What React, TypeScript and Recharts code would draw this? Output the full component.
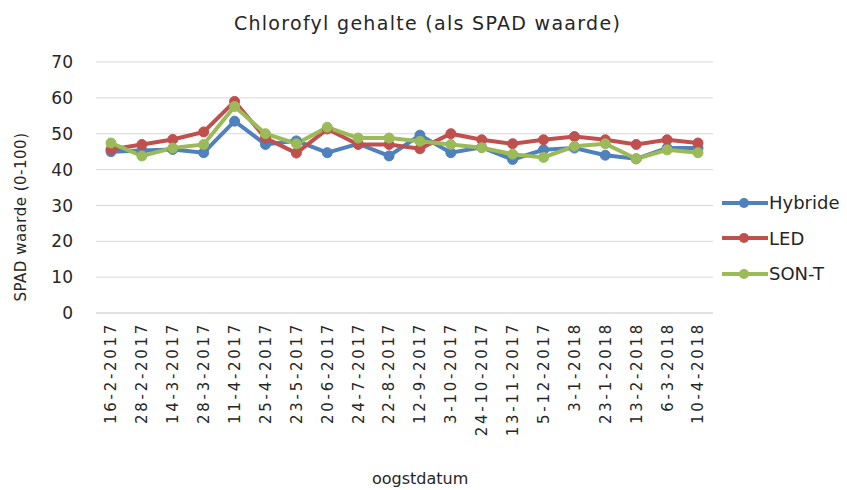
import { CartesianGrid, Line, LineChart, XAxis, YAxis } from 'recharts';

const datums = [
  '16-2-2017', '28-2-2017', '14-3-2017', '28-3-2017', '11-4-2017',
  '25-4-2017', '23-5-2017', '20-6-2017', '24-7-2017', '22-8-2017',
  '12-9-2017', '3-10-2017', '24-10-2017', '13-11-2017', '5-12-2017',
  '3-1-2018', '23-1-2018', '13-2-2018', '6-3-2018', '10-4-2018',
];

const hybride = [45, 45.3, 45.6, 44.7, 53.5, 47, 48, 44.7, 47.2, 43.8, 49.6, 44.7, 46.2, 42.8, 45.5, 46, 44, 43, 46, 46];
const led = [45.6, 47, 48.4, 50.5, 59, 48.8, 44.6, 51.3, 47, 47, 45.8, 50, 48.3, 47.2, 48.3, 49.2, 48.3, 47, 48.3, 47.4];
const sont = [47.4, 43.8, 46, 47, 57.6, 50, 47.2, 51.8, 48.8, 48.8, 47.9, 47, 46.1, 44.3, 43.4, 46.5, 47.2, 43, 45.5, 44.7];

const yTicks = [0, 10, 20, 30, 40, 50, 60, 70];

const series = [
  { key: 'hybride', naam: 'Hybride', kleur: '#4F81BD' },
  { key: 'led', naam: 'LED', kleur: '#C0504D' },
  { key: 'sont', naam: 'SON-T', kleur: '#9BBB59' },
];

const data = datums.map((d, i) => ({
  datum: d,
  hybride: hybride[i],
  led: led[i],
  sont: sont[i],
}));

const font = '"DejaVu Sans", Verdana, sans-serif';
const tekst = '#262626';

const XTick = (props: any) => {
  const { x, payload } = props;
  return (
    <g transform={`translate(${x},322)`}>
      <text
        transform="rotate(-90)"
        textAnchor="end"
        dy="0.36em"
        fill={tekst}
        fontSize={15}
        letterSpacing={2.7}
        fontFamily={font}>
        {payload.value}
      </text>
    </g>
  );
};

const YTick = (props: any) => {
  const { y, payload } = props;
  return (
    <text x={73} y={y} dy="0.36em" textAnchor="end" fill={tekst} fontSize={17} fontFamily={font}>
      {payload.value}
    </text>
  );
};

export default function App() {
  return (
    <div style={{ position: 'absolute', left: 0, top: 0, width: 847, height: 490, background: '#fff', fontFamily: font }}>
      <LineChart
        width={847}
        height={490}
        data={data}
        margin={{ top: 62, right: 134, left: 0, bottom: 57 }}>
        <CartesianGrid vertical={false} stroke="#d9d9d9" />
        <XAxis
          dataKey="datum"
          interval={0}
          height={120}
          padding={{ left: 15, right: 15 }}
          tickLine={false}
          stroke="#d9d9d9"
          tick={<XTick />}
        />
        <YAxis
          width={96}
          domain={[0, 70]}
          ticks={yTicks}
          axisLine={false}
          tickLine={false}
          tick={<YTick />}
        />
        {series.map((s) => (
          <Line
            key={s.key}
            dataKey={s.key}
            name={s.naam}
            stroke={s.kleur}
            strokeWidth={4}
            dot={{ r: 5, fill: s.kleur, stroke: s.kleur, strokeWidth: 1 }}
            isAnimationActive={false}
          />
        ))}
      </LineChart>

      <div
        style={{
          position: 'absolute',
          top: 12,
          left: 0,
          width: 855,
          textAlign: 'center',
          fontSize: 19,
          letterSpacing: 1.3,
          color: tekst,
        }}>
        Chlorofyl gehalte (als SPAD waarde)
      </div>
      <div
        style={{
          position: 'absolute',
          left: 21,
          top: 217,
          transform: 'translate(-50%, -50%) rotate(-90deg)',
          whiteSpace: 'nowrap',
          fontSize: 15,
          letterSpacing: 0.5,
          color: tekst,
        }}>
        SPAD waarde (0-100)
      </div>
      <div style={{ position: 'absolute', left: 372, top: 469, fontSize: 16, color: tekst }}>oogstdatum</div>

      <div style={{ position: 'absolute', left: 722, top: 185 }}>
        {series.map((s) => (
          <div key={s.key} style={{ display: 'flex', alignItems: 'center', height: 35.5 }}>
            <svg width={46} height={14}>
              <line x1={0} y1={7} x2={46} y2={7} stroke={s.kleur} strokeWidth={4} />
              <circle cx={22} cy={7} r={5} fill={s.kleur} />
            </svg>
            <span style={{ fontSize: 18, color: tekst, marginLeft: 1 }}>{s.naam}</span>
          </div>
        ))}
      </div>
    </div>
  );
}
